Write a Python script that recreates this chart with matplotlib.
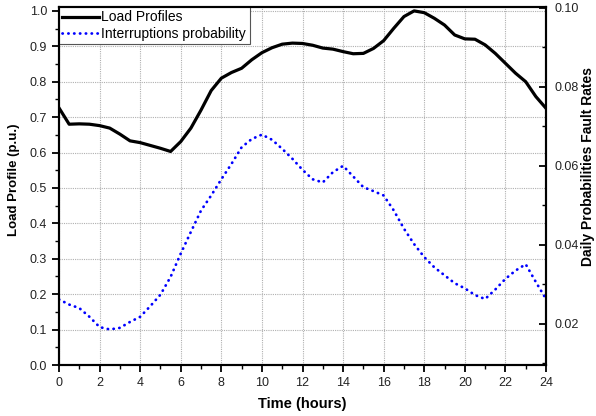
import matplotlib
matplotlib.use("Agg")
import matplotlib.pyplot as plt
from matplotlib.ticker import MultipleLocator, FormatStrFormatter

plt.rcParams['font.family'] = ['Liberation Sans', 'DejaVu Sans']

# Load profile (p.u.), half-hour resolution
hours_load = [0, 0.5, 1, 1.5, 2, 2.5, 3, 3.5, 4, 4.5, 5, 5.5, 6, 6.5, 7, 7.5, 8, 8.5,
              9, 9.5, 10, 10.5, 11, 11.5, 12, 12.5, 13, 13.5, 14, 14.5, 15, 15.5, 16,
              16.5, 17, 17.5, 18, 18.5, 19, 19.5, 20, 20.5, 21, 21.5, 22, 22.5, 23,
              23.5, 24]
load_profile = [0.726, 0.680, 0.681, 0.680, 0.676, 0.669, 0.652, 0.633, 0.628, 0.620,
                0.612, 0.603, 0.631, 0.669, 0.720, 0.775, 0.810, 0.826, 0.838, 0.862,
                0.882, 0.896, 0.906, 0.909, 0.908, 0.903, 0.895, 0.892, 0.885, 0.879,
                0.880, 0.894, 0.916, 0.951, 0.984, 1.000, 0.995, 0.979, 0.960, 0.932,
                0.921, 0.920, 0.904, 0.880, 0.852, 0.824, 0.800, 0.758, 0.725]

# Interruptions probability (right axis)
hours_prob = hours_load
interruption_prob = [0.0262, 0.0249, 0.0240, 0.0218, 0.0192, 0.0186, 0.0190, 0.0205,
                     0.0218, 0.0245, 0.0274, 0.0319, 0.0378, 0.0433, 0.0487, 0.0525,
                     0.0566, 0.0605, 0.0647, 0.0668, 0.0679, 0.0666, 0.0643, 0.0618,
                     0.0590, 0.0566, 0.0558, 0.0584, 0.0600, 0.0573, 0.0546, 0.0536,
                     0.0525, 0.0487, 0.0441, 0.0402, 0.0369, 0.0343, 0.0323, 0.0303,
                     0.0290, 0.0273, 0.0263, 0.0287, 0.0314, 0.0335, 0.0351, 0.0306,
                     0.0263]

x_ticks = list(range(0, 25, 2))
left_ticks = [0.0, 0.1, 0.2, 0.3, 0.4, 0.5, 0.6, 0.7, 0.8, 0.9, 1.0]
right_ticks = [0.02, 0.04, 0.06, 0.08, 0.10]

fig = plt.figure(figsize=(5.96, 4.16), dpi=100)
ax = fig.add_axes([59/596, 1-365/416, (546-59)/596, (365-7)/416])
ax2 = ax.twinx()

l1, = ax.plot(hours_load, load_profile, color='black', lw=2.3, label='Load Profiles', zorder=3)
l2, = ax2.plot(hours_prob, interruption_prob, color='#0000ff', lw=2.0,
               linestyle=(0, (0.1, 2.0)), dash_capstyle='round', label='Interruptions probability')

ax.set_xlim(0, 24)
ax.set_ylim(0, 1.011)
ax2.set_ylim(0.0096, 0.1002)

ax.set_xticks(x_ticks)
ax.xaxis.set_minor_locator(MultipleLocator(1))
ax.set_yticks(left_ticks)
ax.yaxis.set_major_formatter(FormatStrFormatter('%.1f'))
ax.yaxis.set_minor_locator(MultipleLocator(0.05))
ax2.set_yticks(right_ticks)
ax2.yaxis.set_major_formatter(FormatStrFormatter('%.2f'))
ax2.yaxis.set_minor_locator(MultipleLocator(0.01))

ax.grid(True, which='major', color='#b0b0b0', linestyle=(0, (1, 1)), lw=0.8)
ax.set_axisbelow(True)

for a in (ax, ax2):
    for s in a.spines.values():
        s.set_linewidth(1.5)

ax.tick_params(axis='both', which='major', direction='out', length=5, width=1.3,
               labelsize=9, colors='black', labelcolor='#222222')
ax.tick_params(axis='both', which='minor', direction='out', length=3, width=1.0)
ax2.tick_params(axis='y', which='major', direction='in', length=5, width=1.3,
                labelsize=9, labelcolor='#222222', pad=6)
ax2.tick_params(axis='y', which='minor', direction='in', length=3, width=1.0)

ax.set_xlabel('Time (hours)', fontsize=10.5, fontweight='bold')
ax.xaxis.set_label_coords(0.5, -(404-365)/358)
ax.xaxis.label.set_va('center')

ax.set_ylabel('Load Profile (p.u.)', fontsize=9.5, fontweight='bold')
ax.yaxis.set_label_coords((14-59)/487, (365-180)/358)
ax.yaxis.label.set_va('center')
ax.yaxis.label.set_ha('center')

ax2.set_ylabel('Daily Probabilities Fault Rates', fontsize=10, fontweight='bold')
ax2.yaxis.set_label_coords((588-59)/487, (365-166)/358)
ax2.yaxis.label.set_va('center')
ax2.yaxis.label.set_ha('center')

leg = ax.legend(handles=[l1, l2], loc='upper left', bbox_to_anchor=(0, 1),
                borderaxespad=0, fancybox=False, edgecolor='#555555', fontsize=10,
                handlelength=2.6, handletextpad=0.2, borderpad=0.25, labelspacing=0.15,
                framealpha=1)
leg.get_frame().set_linewidth(0.8)
leg.set_zorder(10)

fig.savefig('out.png', dpi=100)
